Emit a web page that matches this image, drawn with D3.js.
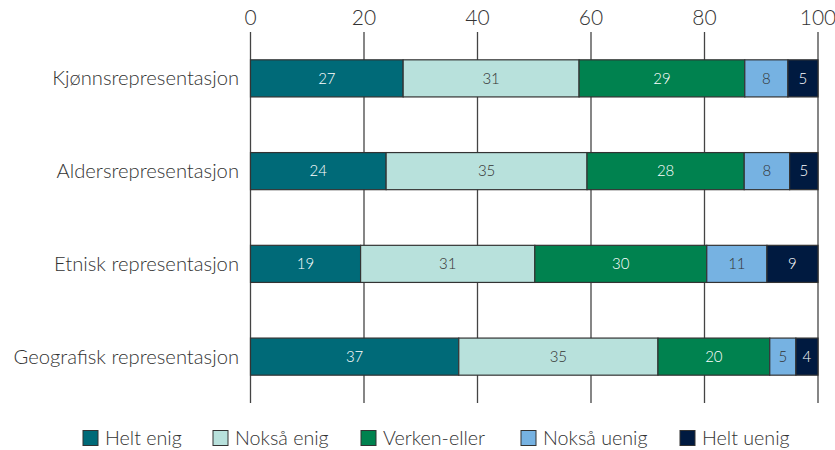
<html>
<head>
<meta charset="utf-8">
<script src="https://cdn.jsdelivr.net/npm/d3@7"></script>
<style>
  body { margin: 0; background: #fff; }
  text { font-family: Lato, "Open Sans", sans-serif; font-weight: 300; }
</style>
</head>
<body>
<script>
// categories and answer groups
const categories = ["Kjønnsrepresentasjon", "Aldersrepresentasjon", "Etnisk representasjon", "Geografisk representasjon"];
const groups = ["Helt enig", "Nokså enig", "Verken-eller", "Nokså uenig", "Helt uenig"];
const colors = ["#006a78", "#b8e1dc", "#00824f", "#76b2e2", "#001a40"];
const labelColors = ["#fff", "#333", "#fff", "#333", "#fff"];

// values per group (share in percent), in category order
const heltEnig   = [26.9, 23.9, 19.4, 36.7];
const noksaEnig  = [31.0, 35.4, 30.7, 35.1];
const verken     = [29.2, 27.7, 30.3, 19.7];
const noksaUenig = [7.6, 8.0, 10.6, 4.6];
const heltUenig  = [5.3, 5.0, 9.0, 3.9];
const ticks = [0, 20, 40, 60, 80, 100];

const w = 835, h = 450;
const svg = d3.select("body").append("svg").attr("width", w).attr("height", h);

const x = d3.scaleLinear().domain([0, 100]).range([250.5, 818]);
const y = d3.scaleBand().domain(categories).range([32, 403]).paddingInner(0.6).paddingOuter(0.3);

// build table for the stack
const rows = categories.map((c, i) => ({
  cat: c,
  "Helt enig": heltEnig[i],
  "Nokså enig": noksaEnig[i],
  "Verken-eller": verken[i],
  "Nokså uenig": noksaUenig[i],
  "Helt uenig": heltUenig[i]
}));
const stacked = d3.stack().keys(groups)(rows);

// gridlines
svg.append("g").selectAll("line").data(ticks).join("line")
  .attr("x1", d => x(d)).attr("x2", d => x(d))
  .attr("y1", 32).attr("y2", 403)
  .attr("stroke", "#444").attr("stroke-width", 1.3);

// top axis labels
svg.append("g").selectAll("text").data(ticks).join("text")
  .attr("x", d => x(d)).attr("y", 25)
  .attr("text-anchor", "middle")
  .attr("font-size", 21).attr("fill", "#333")
  .text(d => d);

// bars
const layer = svg.append("g").selectAll("g").data(stacked).join("g")
  .attr("fill", (d, i) => colors[i]);

layer.selectAll("rect").data(d => d).join("rect")
  .attr("x", d => x(d[0]))
  .attr("width", d => x(d[1]) - x(d[0]))
  .attr("y", d => y(d.data.cat))
  .attr("height", y.bandwidth())
  .attr("stroke", "#333").attr("stroke-width", 1.2);

layer.each(function(s, i) {
  d3.select(this).selectAll("text").data(s).join("text")
    .attr("x", d => (x(d[0]) + x(d[1])) / 2)
    .attr("y", d => y(d.data.cat) + y.bandwidth() / 2)
    .attr("dy", "0.35em")
    .attr("text-anchor", "middle")
    .attr("font-size", 15)
    .attr("fill", labelColors[i])
    .text(d => Math.round(d[1] - d[0]));
});

// category labels
svg.append("g").selectAll("text").data(categories).join("text")
  .attr("x", 239)
  .attr("y", d => y(d) + y.bandwidth() / 2)
  .attr("dy", "0.35em")
  .attr("text-anchor", "end")
  .attr("font-size", 20.2).attr("fill", "#333")
  .text(d => d);

// legend
const legendX = [83, 213, 361, 521, 680];
const legend = svg.append("g").selectAll("g").data(groups).join("g")
  .attr("transform", (d, i) => `translate(${legendX[i]},438)`);
legend.append("rect")
  .attr("x", 0).attr("y", -7.5).attr("width", 15).attr("height", 15)
  .attr("fill", (d, i) => colors[i]).attr("stroke", "#333").attr("stroke-width", 1);
legend.append("text")
  .attr("x", 22).attr("dy", "0.35em")
  .attr("font-size", 19.7).attr("fill", "#333")
  .text(d => d);
</script>
</body>
</html>
